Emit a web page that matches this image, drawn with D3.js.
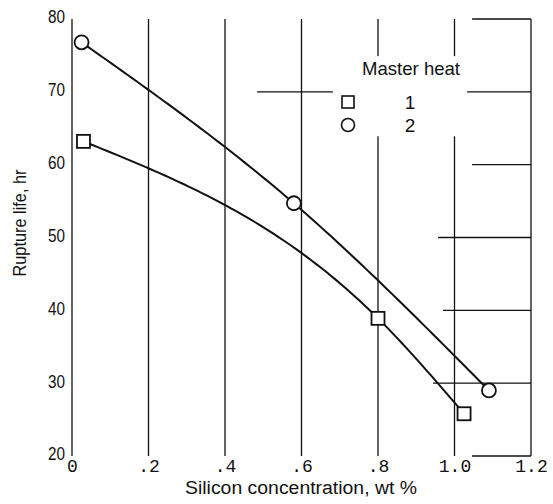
<!DOCTYPE html>
<html>
<head>
<meta charset="utf-8">
<script src="https://cdn.jsdelivr.net/npm/d3@7"></script>
<style>
  html, body { margin: 0; padding: 0; background: #fff; }
  svg { display: block; }
  .tick text { fill: #111; }
</style>
</head>
<body>
<svg id="chart" width="553" height="504"></svg>
<script>
// Rupture life against silicon concentration for two master heats
const xTicks = [0, 0.2, 0.4, 0.6, 0.8, 1.0, 1.2];
const xTickLabels = ["0", ".2", ".4", ".6", ".8", "1.0", "1.2"];
const yTicks = [20, 30, 40, 50, 60, 70, 80];
const yTickLabels = ["20", "30", "40", "50", "60", "70", "80"];

const heatNames = ["1", "2"];
const heat1Si = [0.03, 0.80, 1.025];
const heat1Life = [63.2, 38.9, 25.8];
const heat2Si = [0.025, 0.58, 1.09];
const heat2Life = [76.8, 54.7, 29.0];

const svg = d3.select("#chart");
const x = d3.scaleLinear().domain([0, 1.2]).range([72, 531]);
const y = d3.scaleLinear().domain([20, 80]).range([456, 19]);

const ink = "#111";
const sans = "'Liberation Sans', Arial, sans-serif";

// Squeeze a text element to a given width (lettering is condensed)
function fit(sel, w) {
  sel.attr("textLength", w).attr("lengthAdjust", "spacingAndGlyphs");
}

// Grid: full-height verticals, short horizontal stubs on the right
const grid = svg.append("g").attr("stroke", ink).attr("stroke-width", 1.3).attr("fill", "none");
grid.selectAll("line.v").data(xTicks).join("line")
  .attr("class", "v")
  .attr("x1", d => x(d)).attr("x2", d => x(d))
  .attr("y1", y(80)).attr("y2", y(20));

const stubStart = { 80: 1.046, 70: 0.484, 60: 1.046, 50: 0.957, 40: 0.970, 30: 0.944, 20: 1.046 };
grid.selectAll("line.h").data(yTicks).join("line")
  .attr("class", "h")
  .attr("x1", d => x(stubStart[d])).attr("x2", x(1.2))
  .attr("y1", d => y(d)).attr("y2", d => y(d));

// Clear space behind the legend
svg.append("rect")
  .attr("x", x(0.682)).attr("y", y(74.9))
  .attr("width", x(1.033) - x(0.682)).attr("height", y(63.9) - y(74.9))
  .attr("fill", "#fff");

// Axes (labels only; the grid carries the lines)
const xAxis = svg.append("g")
  .attr("transform", `translate(0,${y(20)})`)
  .call(d3.axisBottom(x).tickValues(xTicks).tickSize(0).tickPadding(5)
    .tickFormat((d, i) => xTickLabels[i]));
xAxis.select(".domain").remove();
xAxis.selectAll("text")
  .attr("font-family", "'Liberation Mono', monospace")
  .attr("font-size", 18)
  .attr("dy", "0.6em");

const yAxis = svg.append("g")
  .attr("transform", `translate(${x(0)},0)`)
  .call(d3.axisLeft(y).tickValues(yTicks).tickSize(0).tickPadding(7)
    .tickFormat((d, i) => yTickLabels[i]));
yAxis.select(".domain").remove();
yAxis.selectAll("text")
  .attr("font-family", sans)
  .attr("font-size", 18)
  .attr("dy", "0.22em")
  .call(fit, 17);

// Axis titles
svg.append("text")
  .attr("x", 301).attr("y", 494)
  .attr("text-anchor", "middle")
  .attr("font-family", sans).attr("font-size", 18).attr("fill", ink)
  .call(fit, 232)
  .text("Silicon concentration,  wt %");

svg.append("text")
  .attr("transform", "translate(26,223) rotate(-90)")
  .attr("text-anchor", "middle")
  .attr("font-family", sans).attr("font-size", 18).attr("fill", ink)
  .call(fit, 107)
  .text("Rupture life, hr");

// Natural cubic spline through the points, evaluated along x
function naturalSpline(xs, ys) {
  const n = xs.length;
  const h = d3.range(n - 1).map(i => xs[i + 1] - xs[i]);
  const m = new Array(n).fill(0);
  if (n > 2) {
    const a = [], b = [], c = [], r = [];
    for (let i = 1; i < n - 1; i++) {
      a.push(h[i - 1]); b.push(2 * (h[i - 1] + h[i])); c.push(h[i]);
      r.push(6 * ((ys[i + 1] - ys[i]) / h[i] - (ys[i] - ys[i - 1]) / h[i - 1]));
    }
    const k = b.length;
    for (let i = 1; i < k; i++) {
      const w = a[i] / b[i - 1];
      b[i] -= w * c[i - 1]; r[i] -= w * r[i - 1];
    }
    const sol = new Array(k);
    sol[k - 1] = r[k - 1] / b[k - 1];
    for (let i = k - 2; i >= 0; i--) sol[i] = (r[i] - c[i] * sol[i + 1]) / b[i];
    for (let i = 0; i < k; i++) m[i + 1] = sol[i];
  }
  return t => {
    const i = Math.min(n - 2, Math.max(0, d3.bisectRight(xs, t) - 1));
    const A = xs[i + 1] - t, B = t - xs[i], hi = h[i];
    return (m[i] * A * A * A + m[i + 1] * B * B * B) / (6 * hi)
      + (ys[i] / hi - m[i] * hi / 6) * A
      + (ys[i + 1] / hi - m[i + 1] * hi / 6) * B;
  };
}

const line = d3.line().x(d => x(d[0])).y(d => y(d[1]));
function drawCurve(xs, ys) {
  const f = naturalSpline(xs, ys);
  const pts = d3.range(0, 81).map(j => {
    const t = xs[0] + (xs[xs.length - 1] - xs[0]) * j / 80;
    return [t, f(t)];
  });
  svg.append("path").datum(pts)
    .attr("d", line).attr("fill", "none")
    .attr("stroke", ink).attr("stroke-width", 2);
}
drawCurve(heat1Si, heat1Life);
drawCurve(heat2Si, heat2Life);

// Markers
const sq = 13, rad = 7;
svg.append("g").selectAll("rect").data(d3.zip(heat1Si, heat1Life)).join("rect")
  .attr("x", d => x(d[0]) - sq / 2).attr("y", d => y(d[1]) - sq / 2)
  .attr("width", sq).attr("height", sq)
  .attr("fill", "#fff").attr("stroke", ink).attr("stroke-width", 1.8);
svg.append("g").selectAll("circle").data(d3.zip(heat2Si, heat2Life)).join("circle")
  .attr("cx", d => x(d[0])).attr("cy", d => y(d[1])).attr("r", rad)
  .attr("fill", "#fff").attr("stroke", ink).attr("stroke-width", 1.8);

// Legend
const lg = svg.append("g");
lg.append("text")
  .attr("x", 411).attr("y", 75).attr("text-anchor", "middle")
  .attr("font-family", sans).attr("font-size", 19).attr("fill", ink)
  .call(fit, 98)
  .text("Master heat");
const rows = [102, 125];
lg.append("rect")
  .attr("x", 348 - 6).attr("y", rows[0] - 6).attr("width", 12).attr("height", 12)
  .attr("fill", "#fff").attr("stroke", ink).attr("stroke-width", 1.6);
lg.append("circle")
  .attr("cx", 348).attr("cy", rows[1]).attr("r", 6.5)
  .attr("fill", "#fff").attr("stroke", ink).attr("stroke-width", 1.6);
lg.selectAll("text.name").data(heatNames).join("text")
  .attr("class", "name")
  .attr("x", 410).attr("y", (d, i) => rows[i] + 7)
  .attr("text-anchor", "middle")
  .attr("font-family", sans).attr("font-size", 19).attr("fill", ink)
  .text(d => d);
</script>
</body>
</html>
